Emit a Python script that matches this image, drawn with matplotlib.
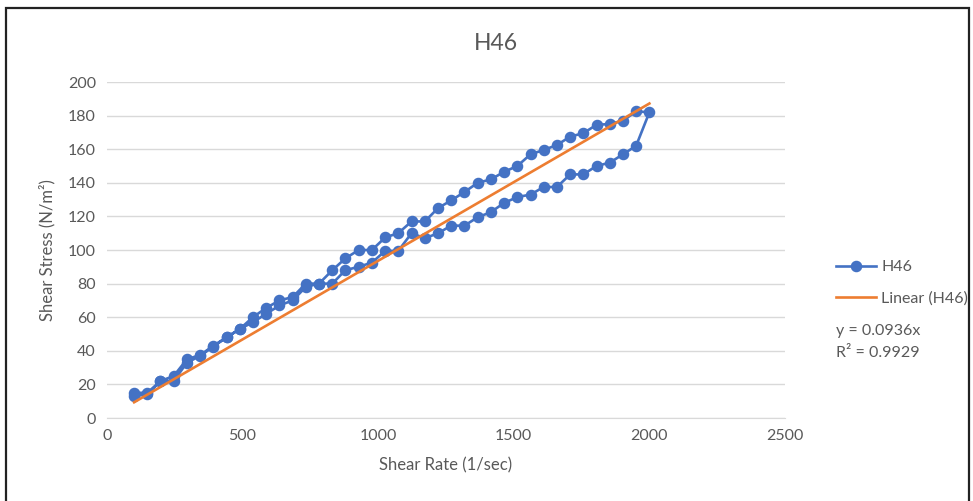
import matplotlib
matplotlib.use('Agg')
import matplotlib.pyplot as plt
from matplotlib.lines import Line2D
import numpy as np

# --- data --------------------------------------------------------------
# shear rate (1/sec), ramp up then ramp down
rate_up = [100, 149, 197, 246, 295, 344, 392, 441, 490, 538,
           587, 636, 685, 733, 782, 831, 879, 928, 977, 1026,
           1074, 1123, 1172, 1221, 1269, 1318, 1367, 1415, 1464, 1513,
           1562, 1610, 1659, 1708, 1756, 1805, 1854, 1903, 1951, 2000]
stress_up = [15, 15, 22, 25, 35, 37.5, 43, 48, 53, 60,
             65.5, 70, 72, 80, 80, 88, 95, 100, 100, 107.5,
             110, 117, 117, 125, 129.5, 134.5, 140, 142, 146.5, 150,
             157, 159.5, 162.5, 167.5, 169.5, 174.5, 175, 177, 182.5, 182]

rate_down = [1951, 1903, 1854, 1805, 1756, 1708, 1659, 1610, 1562, 1513,
             1464, 1415, 1367, 1318, 1269, 1221, 1172, 1123, 1074, 1026,
             977, 928, 879, 831, 782, 733, 685, 636, 587, 538,
             490, 441, 392, 344, 295, 246, 197, 149, 100]
stress_down = [162, 157, 152, 150, 145, 145, 137.5, 137.5, 133, 131.5,
               128, 122.5, 119.5, 114.5, 114.5, 110, 107, 110, 99.5, 99.5,
               92.5, 90, 88, 80, 80, 78, 70, 67, 62, 57,
               53, 48, 42.5, 37, 33, 22, 22, 14, 13]

slope = 0.0936
r2 = 0.9929

BLUE = '#4472C4'
ORANGE = '#ED7D31'
GREY = '#595959'
GRID = '#D9D9D9'

plt.rcParams['font.family'] = ['Lato', 'DejaVu Sans']

fig = plt.figure(figsize=(9.73, 5.01), dpi=100)
ax = fig.add_axes([107 / 973, 83 / 501, 678 / 973, 336 / 501])

x = rate_up + rate_down
y = stress_up + stress_down
ax.plot(x, y, color=BLUE, lw=1.9, marker='o', ms=7.3, zorder=3)

xt = np.array([min(x), max(x)])
ax.plot(xt, slope * xt, color=ORANGE, lw=1.9, zorder=4)

ax.set_xlim(0, 2500)
ax.set_ylim(0, 200)
ax.set_xticks(range(0, 2501, 500))
ax.set_yticks(range(0, 201, 20))
ax.grid(axis='y', color=GRID, lw=1)
ax.set_axisbelow(True)
for s in ['top', 'right', 'left']:
    ax.spines[s].set_visible(False)
ax.spines['bottom'].set_color(GRID)
ax.tick_params(length=0, colors=GREY, labelsize=11.5, pad=8)

ax.set_xlabel('Shear Rate (1/sec)', color=GREY, fontsize=12, labelpad=10)
ax.set_ylabel('Shear Stress (N/m²)', color=GREY, fontsize=12, labelpad=9)
fig.text(496 / 973, 1 - 44 / 501, 'H46', ha='center', va='center',
         color=GREY, fontsize=16.5)

handles = [Line2D([], [], color=BLUE, lw=1.9, marker='o', ms=7.3),
           Line2D([], [], color=ORANGE, lw=1.9)]
fig.legend(handles, ['H46', 'Linear (H46)'], loc='center left',
           bbox_to_anchor=(822 / 973, 1 - 283 / 501), frameon=False,
           fontsize=11.5, labelcolor=GREY, handlelength=2.5,
           labelspacing=1.1, handletextpad=0.3)
fig.text(836 / 973, 1 - 331 / 501, f'y = {slope}x', color=GREY,
         fontsize=11.5, va='center')
fig.text(836 / 973, 1 - 353 / 501, f'R² = {r2}', color=GREY,
         fontsize=11.5, va='center')

# outer frame
fig.add_artist(plt.Rectangle((6 / 973, -0.05), 963 / 973, 1 - 8 / 501 + 0.05,
                             transform=fig.transFigure, fill=False,
                             edgecolor='#222222', lw=1.6))

fig.savefig('out.png', dpi=100, facecolor='white')
